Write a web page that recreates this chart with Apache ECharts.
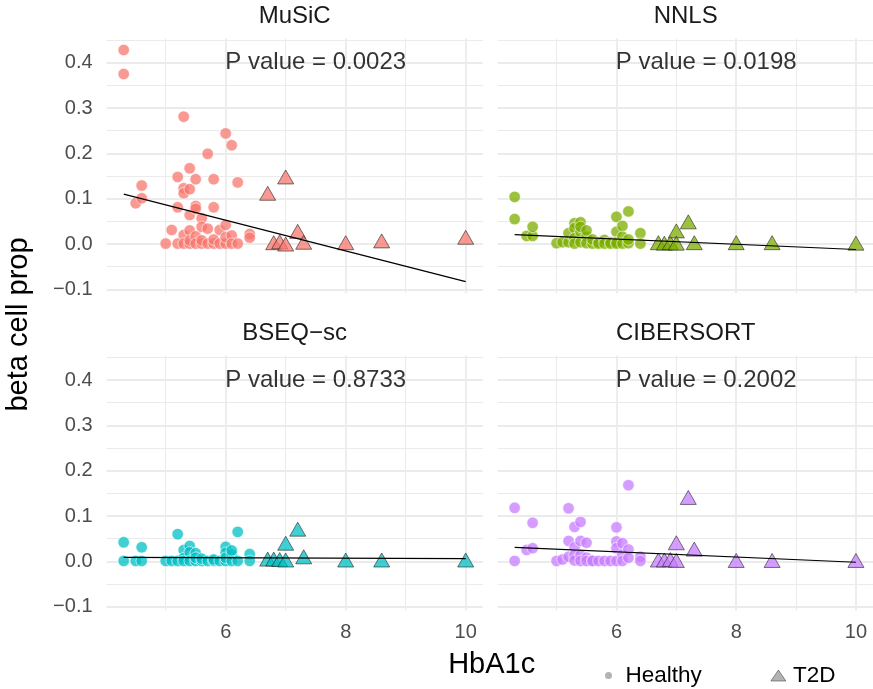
<!DOCTYPE html>
<html><head><meta charset="utf-8">
<script src="https://cdn.jsdelivr.net/npm/echarts@6/dist/echarts.min.js"></script>
<style>html,body{margin:0;padding:0;background:#fff}#c{width:873px;height:689px}</style>
</head><body><div id="c"></div>
<script>
const methods = ['MuSiC', 'NNLS', 'BSEQ−sc', 'CIBERSORT'];
const colors = ['#F8766D', '#7CAE00', '#00BFC4', '#C77CFF'];
const pValues = ['0.0023', '0.0198', '0.8733', '0.2002'];
const pLabelPos = [7.5, 0.4];

const musicHealthy = [
  [4.3,0.428],[4.3,0.375],[4.5,0.090],[4.6,0.101],[4.6,0.129],
  [5.0,0.001],[5.1,0.031],[5.2,0.081],[5.2,0.148],[5.2,0.001],
  [5.3,0.281],[5.3,0.123],[5.3,0.112],[5.3,0.020],[5.3,0.001],
  [5.4,0.167],[5.4,0.121],[5.4,0.064],[5.4,0.030],[5.4,0.001],[5.4,0.008],
  [5.5,0.143],[5.5,0.084],[5.5,0.078],[5.5,0.017],[5.5,0.001],
  [5.6,0.057],[5.6,0.038],[5.6,0.001],[5.6,0.008],
  [5.7,0.199],[5.7,0.034],[5.7,0.001],
  [5.8,0.143],[5.8,0.081],[5.8,0.001],[5.8,0.010],
  [5.9,0.031],[5.9,0.001],
  [6.0,0.244],[6.0,0.042],[6.0,0.001],[6.0,0.015],
  [6.1,0.218],[6.1,0.019],[6.1,0.001],
  [6.2,0.136],[6.2,0.001],
  [6.4,0.022],[6.4,0.014]
];
const nnlsHealthy = [
  [4.3,0.104],[4.3,0.055],[4.5,0.018],[4.6,0.018],[4.6,0.038],
  [5.0,0.002],[5.1,0.004],[5.2,0.004],[5.2,0.024],
  [5.3,0.046],[5.3,0.035],[5.3,0.013],[5.3,0.001],
  [5.4,0.048],[5.4,0.027],[5.4,0.004],[5.4,0.038],
  [5.5,0.016],[5.5,0.002],[5.5,0.030],
  [5.6,0.001],[5.6,0.010],
  [5.7,0.004],[5.7,0.001],
  [5.8,0.009],[5.8,0.001],
  [5.9,0.004],[5.9,0.001],
  [6.0,0.060],[6.0,0.027],[6.0,0.004],[6.0,0.001],
  [6.1,0.040],[6.1,0.016],[6.1,0.001],
  [6.2,0.072],[6.2,0.002],[6.2,0.010],
  [6.4,0.024],[6.4,0.001]
];
const bseqHealthy = [
  [4.3,0.042],[4.3,0.001],[4.5,0.001],[4.6,0.031],[4.6,0.001],
  [5.0,0.001],[5.1,0.001],[5.2,0.060],[5.2,0.001],
  [5.3,0.025],[5.3,0.007],[5.3,0.001],
  [5.4,0.034],[5.4,0.020],[5.4,0.001],
  [5.5,0.018],[5.5,0.001],[5.5,0.008],
  [5.6,0.001],[5.6,0.006],
  [5.7,0.001],[5.8,0.001],[5.8,0.004],[5.9,0.001],
  [6.0,0.032],[6.0,0.001],[6.0,0.019],[6.0,0.008],
  [6.1,0.015],[6.1,0.001],[6.1,0.024],
  [6.2,0.065],[6.2,0.001],
  [6.4,0.016],[6.4,0.001]
];
const ciberHealthy = [
  [4.3,0.118],[4.3,0.001],[4.5,0.025],[4.6,0.029],[4.6,0.085],
  [5.0,0.001],[5.1,0.004],[5.2,0.117],[5.2,0.045],[5.2,0.010],
  [5.3,0.076],[5.3,0.031],[5.3,0.014],[5.3,0.002],
  [5.4,0.087],[5.4,0.045],[5.4,0.014],[5.4,0.001],
  [5.5,0.041],[5.5,0.008],[5.5,0.001],
  [5.6,0.002],[5.6,0.001],
  [5.7,0.001],[5.8,0.001],[5.9,0.001],
  [6.0,0.075],[6.0,0.044],[6.0,0.029],[6.0,0.001],
  [6.1,0.040],[6.1,0.015],[6.1,0.001],
  [6.2,0.168],[6.2,0.026],[6.2,0.008],
  [6.4,0.010],[6.4,0.001]
];

const t2dX = [6.7, 6.8, 6.9, 7.0, 7.0, 7.2, 7.3, 8.0, 8.6, 10.0];
const musicT2D = [0.112, 0.003, 0.005, 0.148, 0.000, 0.028, 0.004, 0.003, 0.007, 0.015];
const nnlsT2D  = [0.003, 0.002, 0.003, 0.029, 0.002, 0.049, 0.003, 0.003, 0.003, 0.002];
const bseqT2D  = [0.005, 0.005, 0.004, 0.040, 0.003, 0.071, 0.010, 0.003, 0.003, 0.003];
const ciberT2D = [0.003, 0.003, 0.004, 0.041, 0.002, 0.141, 0.027, 0.002, 0.002, 0.002];

const fitLines = [
  [[4.3, 0.110], [10.0, -0.083]],
  [[4.3, 0.021], [10.0, -0.012]],
  [[4.3, 0.009], [10.0, 0.006]],
  [[4.3, 0.031], [10.0, -0.002]]
];

const xMajor = [6, 8, 10];
const xMinor = [5, 7, 9];
const yMajor = [-0.1, 0, 0.1, 0.2, 0.3, 0.4];
const yMinor = [-0.05, 0.05, 0.15, 0.25, 0.35, 0.45];
const xRange = [4.015, 10.285];
const yRange = [-0.1086, 0.4536];

const healthySets = [musicHealthy, nnlsHealthy, bseqHealthy, ciberHealthy];
const t2dSets = [musicT2D, nnlsT2D, bseqT2D, ciberT2D];

const FONT = '"Liberation Sans", Arial, Helvetica, sans-serif';
const gridBoxes = [
  {left: 106.6, top: 38.4}, {left: 497.6, top: 38.4},
  {left: 106.6, top: 355.7}, {left: 497.6, top: 355.7}
];
const GW = 376.2, GH = 254.9;

const chart = echarts.init(document.getElementById('c'), null, {renderer: 'canvas'});

const grid = [], xAxis = [], yAxis = [], series = [];
const majorLine = {show: true, lineStyle: {color: '#EBEBEB', width: 1.8}};
const minorLine = {show: true, lineStyle: {color: '#EBEBEB', width: 1.0}};

function fmtY(v) {
  if (Math.abs(v) < 1e-9) return '0.0';
  return v.toFixed(1).replace('-', '\u2212');
}

for (let i = 0; i < 4; i++) {
  grid.push({left: gridBoxes[i].left, top: gridBoxes[i].top, width: GW, height: GH, containLabel: false});
  const showX = i >= 2, showY = i % 2 === 0;
  xAxis.push({
    type: 'value', gridIndex: i, min: xRange[0], max: xRange[1],
    axisLine: {show: false}, axisTick: {show: false, customValues: xMajor},
    axisLabel: {show: showX, customValues: xMajor, color: '#4D4D4D', fontSize: 20, fontFamily: FONT, margin: 12},
    splitLine: majorLine, z: 1
  });
  xAxis.push({
    type: 'value', gridIndex: i, min: xRange[0], max: xRange[1],
    axisLine: {show: false}, axisTick: {show: false, customValues: xMinor},
    axisLabel: {show: false}, splitLine: minorLine, z: 0
  });
  yAxis.push({
    type: 'value', gridIndex: i, min: yRange[0], max: yRange[1],
    axisLine: {show: false}, axisTick: {show: false, customValues: yMajor},
    axisLabel: {show: showY, customValues: yMajor, color: '#4D4D4D', fontSize: 20, fontFamily: FONT, margin: 14, formatter: fmtY},
    splitLine: majorLine, z: 1
  });
  yAxis.push({
    type: 'value', gridIndex: i, min: yRange[0], max: yRange[1],
    axisLine: {show: false}, axisTick: {show: false, customValues: yMinor},
    axisLabel: {show: false}, splitLine: minorLine, z: 0
  });

  const c = colors[i];
  series.push({
    name: 'Healthy', type: 'scatter', xAxisIndex: 2 * i, yAxisIndex: 2 * i,
    data: healthySets[i], symbol: 'circle', symbolSize: 11.5,
    itemStyle: {color: c, opacity: 0.75, borderColor: '#FFFFFF', borderWidth: 0.8},
    z: 2, silent: true
  });
  series.push({
    name: 'T2D', type: 'scatter', xAxisIndex: 2 * i, yAxisIndex: 2 * i,
    data: t2dX.map((x, k) => [x, t2dSets[i][k]]), symbol: 'triangle', symbolSize: [16, 14],
    itemStyle: {color: c, opacity: 0.75, borderColor: '#222222', borderWidth: 0.8},
    z: 3, silent: true
  });
  series.push({
    type: 'line', xAxisIndex: 2 * i, yAxisIndex: 2 * i, data: fitLines[i],
    showSymbol: false, symbol: 'none', lineStyle: {color: '#000000', width: 1.2}, z: 4, silent: true
  });
  series.push({
    type: 'scatter', xAxisIndex: 2 * i, yAxisIndex: 2 * i, data: [pLabelPos],
    symbolSize: 1, itemStyle: {color: 'rgba(0,0,0,0)'}, silent: true, z: 5,
    label: {show: true, position: 'inside', formatter: 'P value = ' + pValues[i],
      color: '#000000', fontSize: 24, fontFamily: FONT}
  });
}

const graphic = [];
for (let i = 0; i < 4; i++) {
  graphic.push({
    type: 'text', x: gridBoxes[i].left + GW / 2, y: gridBoxes[i].top - 22.4,
    style: {text: methods[i], fill: '#1A1A1A', font: '24px ' + FONT, align: 'center', verticalAlign: 'middle'}
  });
}
graphic.push({
  type: 'text', x: 491.7, y: 665,
  style: {text: 'HbA1c', fill: '#000000', font: '29px ' + FONT, align: 'center', verticalAlign: 'middle'}
});
graphic.push({
  type: 'text', x: 19, y: 324.5, rotation: Math.PI / 2,
  style: {text: 'beta cell prop', fill: '#000000', font: '29px ' + FONT, align: 'center', verticalAlign: 'middle'}
});

const option = {
  animation: false,
  backgroundColor: '#FFFFFF',
  grid, xAxis, yAxis, series, graphic,
  legend: [
    {data: [{name: 'Healthy', icon: 'circle', itemStyle: {color: '#9A9A9A', borderWidth: 0}}],
      left: 605, top: 664, padding: 0, itemWidth: 20, itemHeight: 7,
      textStyle: {fontSize: 22.5, fontFamily: FONT, color: '#000000', padding: [0, 0, 0, 2]}, selectedMode: false},
    {data: [{name: 'T2D', icon: 'triangle', itemStyle: {color: '#9A9A9A', borderColor: '#4D4D4D', borderWidth: 0.8}}],
      left: 770.5, top: 664, padding: 0, itemWidth: 15, itemHeight: 11,
      textStyle: {fontSize: 22.5, fontFamily: FONT, color: '#000000', padding: [0, 0, 0, 2]}, selectedMode: false}
  ]
};
chart.setOption(option);
</script></body></html>
